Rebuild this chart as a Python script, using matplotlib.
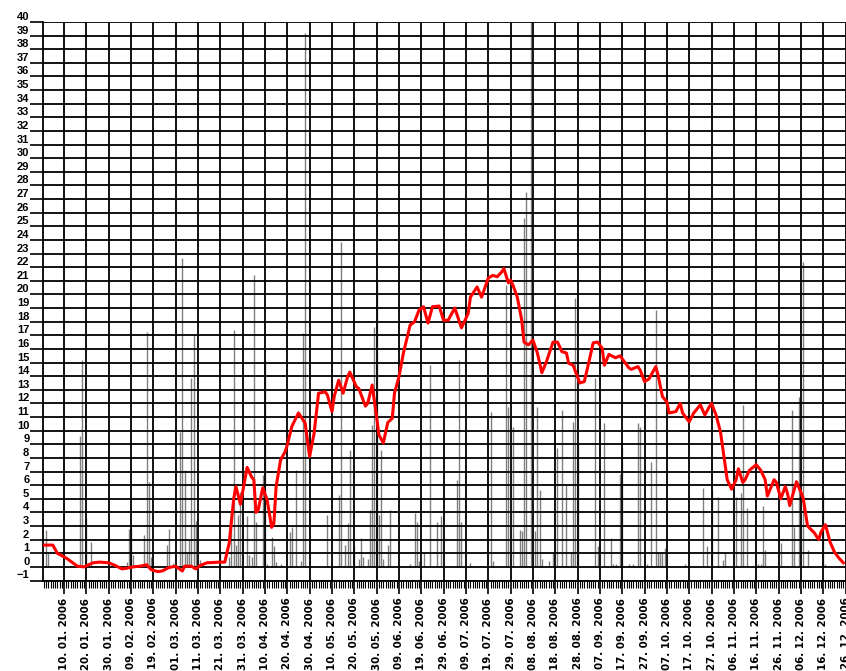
import datetime as dt
import numpy as np
import pandas as pd
import matplotlib
matplotlib.use("Agg")
import matplotlib.pyplot as plt
import matplotlib.dates as mdates
from matplotlib.transforms import ScaledTranslation

# daily mean temperature (smoothed), day of year -> deg C
temp_days = [1, 5, 7, 11, 16, 19, 23, 26, 30, 33, 36, 38, 41, 44, 47, 49, 52, 54, 57, 60,
             63, 64, 67, 69, 71, 74, 80, 82, 84, 86, 87, 89, 92, 94, 95, 96, 97, 99, 101, 103,
             104, 105, 107, 109, 110, 112, 115, 118, 120, 122, 124, 127, 128, 130, 131, 133, 135, 137, 138, 141,
             142, 145, 146, 148, 150, 151, 153, 155, 157, 158, 160, 162, 165, 167, 169, 171, 173, 175, 178, 180,
             182, 185, 188, 191, 192, 195, 197, 200, 202, 204, 206, 207, 209, 210, 211, 213, 215, 216, 218, 220,
             222, 224, 226, 229, 231, 233, 235, 236, 238, 241, 243, 245, 247, 249, 251, 252, 254, 257, 259, 261,
             263, 264, 267, 268, 270, 272, 275, 276, 278, 280, 281, 284, 286, 287, 290, 292, 295, 296, 297, 299,
             300, 302, 304, 306, 307, 309, 311, 312, 314, 315, 317, 320, 322, 324, 325, 328, 329, 331, 333, 334,
             335, 338, 340, 341, 343, 346, 348, 349, 351, 353, 355, 357, 359]
temp_vals = [1.6, 1.6, 1.0, 0.65, 0.05, 0.0, 0.3, 0.35, 0.3, 0.1, -0.15, -0.1, 0.0, 0.05, 0.15, -0.2, -0.35, -0.3, -0.05, 0.05,
             -0.3, 0.05, 0.05, -0.15, 0.1, 0.3, 0.35, 0.35, 1.75, 5.0, 5.9, 4.6, 7.3, 6.6, 6.4, 4.0, 4.2, 5.8, 4.9, 2.9,
             3.2, 5.9, 7.85, 8.45, 8.95, 10.3, 11.3, 10.55, 8.1, 9.8, 12.75, 12.85, 12.6, 11.4, 12.5, 13.7, 12.75, 13.95, 14.3, 13.2,
             13.1, 11.8, 12.0, 13.35, 11.0, 9.7, 9.1, 10.6, 10.9, 12.75, 13.95, 15.7, 17.75, 18.0, 18.85, 19.1, 17.9, 19.1, 19.15, 18.1,
             18.1, 19.0, 17.55, 18.6, 19.8, 20.55, 19.8, 21.2, 21.4, 21.3, 21.65, 21.9, 20.85, 21.05, 20.7, 19.8, 18.1, 16.5, 16.3, 16.65,
             15.7, 14.25, 15.05, 16.5, 16.5, 15.8, 15.7, 14.95, 14.8, 13.5, 13.6, 15.0, 16.45, 16.5, 16.05, 14.8, 15.6, 15.35, 15.5, 15.05,
             14.6, 14.5, 14.7, 14.45, 13.6, 13.8, 14.7, 14.1, 12.5, 12.1, 11.3, 11.4, 12.0, 11.3, 10.65, 11.3, 11.9, 11.5, 11.15, 11.75,
             12.0, 11.15, 9.9, 7.6, 6.4, 5.7, 6.4, 7.2, 6.2, 6.4, 7.1, 7.5, 7.1, 6.4, 5.2, 6.4, 6.2, 5.0, 5.9, 5.4,
             4.5, 6.25, 5.5, 5.05, 3.0, 2.5, 2.0, 2.55, 3.1, 1.85, 1.1, 0.65, 0.3]

# daily precipitation, day of year -> mm
rain_days = [2, 3, 17, 18, 20, 22, 38, 39, 40, 41, 46, 47, 48, 49, 56, 57, 59, 62, 63, 64,
             65, 66, 67, 68, 69, 71, 80, 84, 85, 86, 87, 88, 89, 92, 93, 94, 95, 96, 99, 100,
             101, 103, 104, 105, 107, 111, 112, 114, 116, 117, 118, 128, 130, 133, 134, 136, 137, 138, 140, 142,
             143, 144, 146, 147, 148, 149, 150, 151, 152, 153, 155, 156, 165, 167, 168, 169, 171, 174, 177, 179,
             186, 187, 188, 192, 201, 202, 208, 209, 211, 214, 215, 216, 217, 219, 221, 222, 223, 224, 227, 229,
             231, 233, 235, 237, 238, 239, 240, 248, 249, 252, 255, 256, 257, 259, 260, 263, 265, 267, 268, 271,
             273, 275, 276, 277, 278, 279, 288, 296, 298, 300, 303, 305, 306, 311, 313, 314, 316, 321, 322, 323,
             324, 331, 336, 337, 339, 341, 343, 350, 351]
rain_vals = [2.7, 1.1, 9.6, 15.2, 3.6, 1.85, 0.35, 2.8, 2.95, 0.9, 2.35, 17.25, 6.25, 0.75, 1.6, 2.8, 0.3, 9.9, 22.7, 7.1,
             1.0, 2.0, 13.9, 17.0, 3.4, 0.5, 1.1, 0.75, 3.95, 17.4, 1.6, 3.8, 5.5, 3.7, 0.9, 0.75, 21.4, 3.3, 6.75, 15.2,
             0.2, 2.2, 1.5, 0.35, 0.2, 2.55, 2.95, 7.1, 0.4, 17.2, 39.2, 3.8, 0.15, 5.3, 23.85, 1.6, 3.2, 8.6, 1.5, 0.6,
             2.1, 0.75, 0.6, 4.2, 10.4, 17.6, 20.9, 3.8, 8.6, 0.6, 1.6, 4.2, 0.2, 3.95, 3.3, 0.4, 1.1, 14.8, 3.3, 3.7,
             6.4, 15.2, 3.3, 0.3, 11.4, 0.4, 20.7, 11.75, 10.3, 2.7, 2.6, 25.6, 27.5, 45.0, 2.6, 11.75, 5.65, 0.6, 0.4, 1.1,
             8.7, 11.5, 6.0, 1.0, 10.65, 19.75, 9.0, 13.9, 1.5, 10.55, 2.1, 0.2, 0.2, 6.85, 8.7, 0.2, 0.2, 10.55, 10.25, 0.2,
             7.7, 18.85, 1.1, 1.1, 1.1, 1.4, 0.2, 5.8, 1.5, 5.65, 5.15, 0.5, 1.0, 5.15, 5.4, 11.9, 4.3, 0.2, 0.2, 4.5,
             1.25, 1.75, 11.55, 2.9, 12.5, 22.4, 1.25, 5.4, 0.2]

year_start = dt.datetime(2006, 1, 1)


def doy_to_date(days):
    return [year_start + dt.timedelta(days=d - 1) for d in days]


fig = plt.figure(figsize=(8.46, 6.71), dpi=100)
ax = fig.add_axes([43 / 846, 1 - 580.5 / 671, 1 - 43 / 846, (580.5 - 22) / 671])

ax.vlines(doy_to_date(rain_days), 0, rain_vals, colors="#808080", lw=1.0, zorder=1)
ax.plot(doy_to_date(temp_days), temp_vals, color="#ff0000", lw=2.2, zorder=4)

ax.set_ylim(-1, 40)
ax.set_xlim(year_start - dt.timedelta(days=0.4), year_start + dt.timedelta(days=359.2))

# y axis: one line per unit
ax.set_yticks(range(-1, 41))
ax.tick_params(axis="y", length=9.4, width=1.2, pad=0.5, color="black")
for lab in ax.get_yticklabels():
    lab.set_fontfamily(["Liberation Sans", "DejaVu Sans"])
    lab.set_fontweight("bold")
    lab.set_fontsize(8)
    lab.set_transform(lab.get_transform() + ScaledTranslation(0, 0.06, fig.dpi_scale_trans))

# x axis: grid every 10 days, small ticks every day
major = pd.date_range("2006-01-10", "2006-12-31", freq="10D").to_pydatetime()
ax.set_xticks(major)
ax.xaxis.set_major_formatter(mdates.DateFormatter("%d. %m. %Y"))
ax.xaxis.set_minor_locator(mdates.DayLocator())
ax.tick_params(axis="x", which="major", length=9.4, width=1.2, pad=3)
ax.tick_params(axis="x", which="minor", length=5, width=0.8)
for lab in ax.get_xticklabels():
    lab.set_rotation(90)
    lab.set_va("top")
    lab.set_ha("center")
    lab.set_fontfamily("DejaVu Sans")
    lab.set_fontweight("bold")
    lab.set_fontsize(7.4)

ax.set_axisbelow(False)
ax.grid(True, which="major", color="black", lw=1.3, zorder=2)

for side in ("top", "right"):
    ax.spines[side].set_visible(False)
ax.spines["left"].set_linewidth(1.3)
ax.spines["bottom"].set_linewidth(1.3)

fig.savefig("out.png", dpi=100)
